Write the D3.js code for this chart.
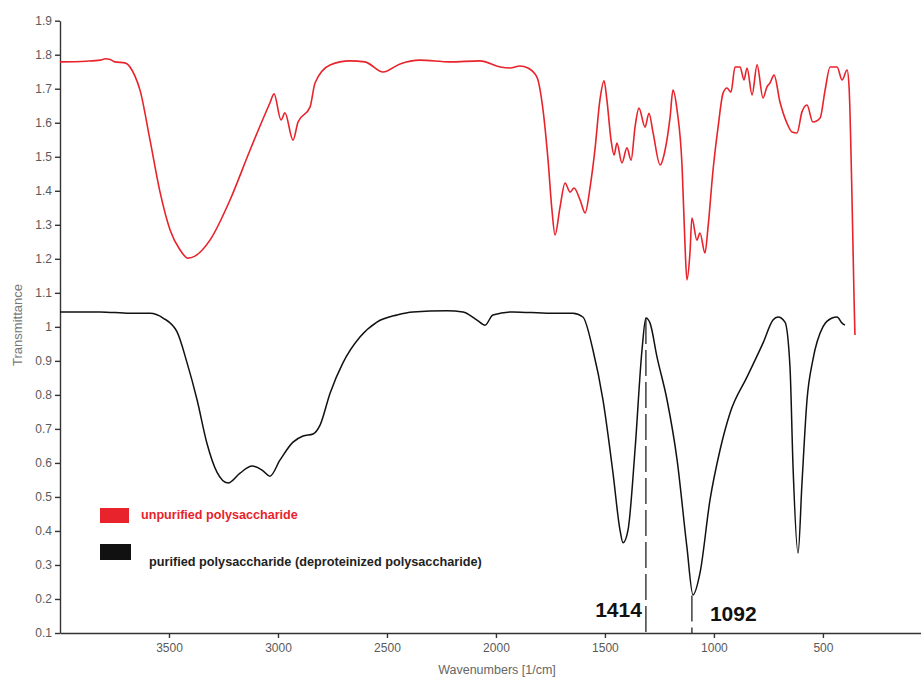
<!DOCTYPE html>
<html>
<head>
<meta charset="utf-8">
<title>FTIR spectra</title>
<script src="https://d3js.org/d3.v7.min.js"></script>
<style>
  body { margin: 0; background: #fff; }
  .axis text { font: 12px "Liberation Sans", Arial, sans-serif; fill: #5a5a5a; }
  .axis path, .axis line { stroke: #333; stroke-width: 1.4; }
</style>
</head>
<body>
<svg width="921" height="677"></svg>
<script>
// spectra: [wavenumber 1/cm, transmittance]
var unpurified = [
  [4000,1.779],[3880,1.781],[3816,1.784],[3790,1.788],[3770,1.786],[3748,1.779],[3702,1.776],[3656,1.737],[3633,1.696],
  [3587,1.549],[3541,1.396],[3495,1.285],[3449,1.226],[3413,1.202],[3381,1.208],[3312,1.255],
  [3220,1.373],[3128,1.520],[3037,1.658],[3018,1.685],[2986,1.608],[2968,1.629],[2931,1.549],
  [2908,1.602],[2853,1.646],[2830,1.717],[2761,1.770],[2670,1.782],[2601,1.779],[2518,1.749],
  [2440,1.773],[2348,1.784],[2211,1.779],[2073,1.782],[1981,1.764],[1935,1.761],[1890,1.767],
  [1853,1.761],[1812,1.734],[1784,1.637],[1761,1.490],[1743,1.343],[1729,1.270],[1706,1.352],
  [1683,1.423],[1660,1.396],[1642,1.408],[1614,1.373],[1591,1.335],[1568,1.411],[1546,1.520],
  [1523,1.667],[1504,1.723],[1491,1.667],[1472,1.549],[1458,1.505],[1445,1.540],[1422,1.482],
  [1399,1.526],[1380,1.490],[1362,1.587],[1344,1.643],[1316,1.587],[1298,1.628],[1279,1.570],
  [1247,1.476],[1224,1.520],[1201,1.617],[1188,1.696],[1169,1.637],[1146,1.470],[1133,1.246],
  [1124,1.138],[1110,1.217],[1101,1.320],[1078,1.255],[1064,1.276],[1041,1.217],[1027,1.293],
  [1004,1.461],[981,1.587],[958,1.687],[940,1.702],[922,1.690],[903,1.764],[880,1.764],
  [862,1.726],[848,1.761],[825,1.682],[802,1.770],[775,1.673],[757,1.705],[743,1.717],
  [724,1.740],[697,1.661],[665,1.599],[642,1.573],[619,1.570],[596,1.632],[573,1.652],
  [546,1.602],[513,1.614],[490,1.696],[467,1.764],[435,1.764],[412,1.726],[389,1.755],
  [380,1.705],[367,1.393],[357,1.079],[353,0.976]
];

var purified = [
  [4000,1.044],[3816,1.044],[3679,1.040],[3587,1.040],[3527,1.026],[3463,0.985],[3417,0.894],
  [3371,0.785],[3326,0.658],[3280,0.573],[3229,0.541],[3174,0.570],[3119,0.591],[3073,0.579],
  [3037,0.561],[2991,0.608],[2931,0.661],[2885,0.679],[2839,0.685],[2807,0.711],[2761,0.805],
  [2702,0.894],[2624,0.970],[2546,1.014],[2454,1.035],[2381,1.044],[2225,1.047],[2151,1.044],
  [2087,1.020],[2050,1.005],[2014,1.035],[1922,1.044],[1752,1.040],[1647,1.040],[1601,1.029],
  [1555,0.932],[1509,0.785],[1463,0.570],[1431,0.403],[1417,0.365],[1394,0.403],[1362,0.638],
  [1330,0.932],[1312,1.026],[1293,1.011],[1261,0.911],[1215,0.785],[1169,0.609],[1124,0.353],
  [1096,0.212],[1064,0.276],[1018,0.491],[972,0.638],[926,0.747],[848,0.853],[775,0.952],
  [729,1.020],[706,1.029],[674,1.014],[651,0.882],[637,0.588],[614,0.335],[596,0.541],
  [573,0.785],[546,0.903],[500,1.000],[458,1.026],[435,1.029],[412,1.011],[399,1.005]
];

var xTicks = [3500, 3000, 2500, 2000, 1500, 1000, 500];
var yTicks = [0.1,0.2,0.3,0.4,0.5,0.6,0.7,0.8,0.9,1.0,1.1,1.2,1.3,1.4,1.5,1.6,1.7,1.8,1.9];

// marked bands: where the dashed line stands, from/to transmittance, label
var markX = [1312, 1101];
var markTop = [1.026, 0.21];
var markLabels = ["1414", "1092"];

var legendNames = ["unpurified polysaccharide", "purified polysaccharide (deproteinized polysaccharide)"];
var colors = ["#e8232b", "#111"];

var svg = d3.select("svg");

var x = d3.scaleLinear().domain([4000, 50]).range([60, 921]);
var y = d3.scaleLinear().domain([0.1, 1.9]).range([633, 20.7]);

svg.append("g")
  .attr("class", "axis")
  .attr("transform", "translate(0,633)")
  .call(d3.axisBottom(x).tickValues(xTicks).tickSize(5).tickSizeOuter(0).tickPadding(5)
    .tickFormat(d3.format("d")));

svg.append("g")
  .attr("class", "axis")
  .attr("transform", "translate(60,0)")
  .call(d3.axisLeft(y).tickValues(yTicks).tickSize(5).tickSizeOuter(0).tickPadding(3)
    .tickFormat(function(d){ return String(+d.toFixed(1)); }));

svg.append("text")
  .attr("x", 497).attr("y", 674)
  .attr("text-anchor", "middle")
  .style("font", "12.5px 'Liberation Sans', Arial, sans-serif")
  .style("fill", "#666")
  .text("Wavenumbers [1/cm]");

svg.append("text")
  .attr("transform", "translate(22,325) rotate(-90)")
  .attr("text-anchor", "middle")
  .style("font", "13px 'Liberation Sans', Arial, sans-serif")
  .style("fill", "#777")
  .text("Transmittance");

var line = d3.line()
  .x(function(d){ return x(d[0]); })
  .y(function(d){ return y(d[1]); })
  .curve(d3.curveMonotoneX);

svg.append("path").datum(unpurified)
  .attr("d", line).attr("fill", "none")
  .attr("stroke", colors[0]).attr("stroke-width", 1.6);

svg.append("path").datum(purified)
  .attr("d", line).attr("fill", "none")
  .attr("stroke", colors[1]).attr("stroke-width", 1.5);

// dashed marker lines
markX.forEach(function(m, i){
  svg.append("line")
    .attr("x1", x(m)).attr("x2", x(m))
    .attr("y1", y(markTop[i])).attr("y2", y(0.1))
    .attr("stroke", "#111").attr("stroke-width", 1.2)
    .attr("stroke-dasharray", "26,6");
});

svg.append("text")
  .attr("x", x(markX[0]) - 4).attr("y", 617)
  .attr("text-anchor", "end")
  .style("font", "bold 21px 'Liberation Sans', Arial, sans-serif")
  .style("fill", "#111")
  .text(markLabels[0]);

svg.append("text")
  .attr("x", x(markX[1]) + 18).attr("y", 621)
  .style("font", "bold 21px 'Liberation Sans', Arial, sans-serif")
  .style("fill", "#111")
  .text(markLabels[1]);

// legend
var legY = [508, 544], legTx = [141, 149], legTy = [519, 566];
legendNames.forEach(function(n, i){
  svg.append("rect")
    .attr("x", 100).attr("y", legY[i])
    .attr("width", i ? 31 : 29).attr("height", i ? 16 : 15)
    .style("fill", colors[i]);
  svg.append("text")
    .attr("x", legTx[i]).attr("y", legTy[i])
    .style("font", "bold " + (i ? 12.7 : 12.6) + "px 'Liberation Sans', Arial, sans-serif")
    .style("fill", i ? "#222" : colors[0])
    .text(n);
});
</script>
</body>
</html>
